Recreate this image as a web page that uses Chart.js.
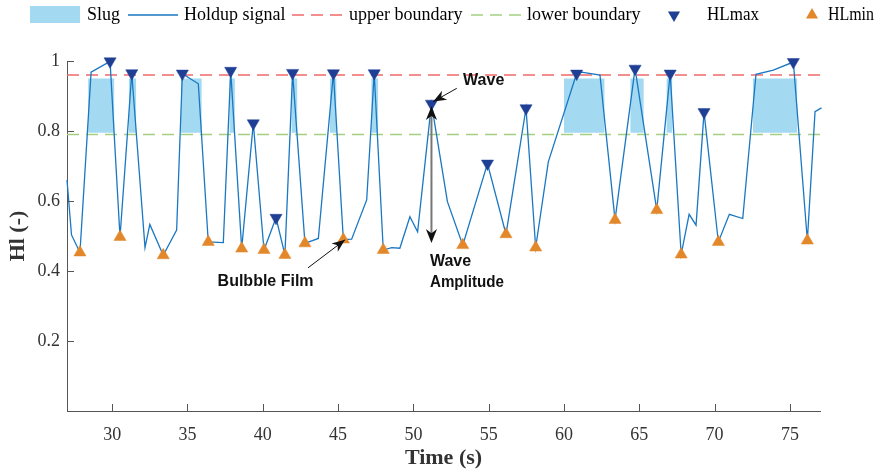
<!DOCTYPE html>
<html>
<head>
<meta charset="utf-8">
<title>Holdup signal</title>
<script src="https://cdn.jsdelivr.net/npm/chart.js@4.4.1/dist/chart.umd.min.js"></script>
<style>
  html, body { margin: 0; padding: 0; background: #fff; }
</style>
</head>
<body>
<canvas id="grafico" width="875" height="472"></canvas>
<script>
// Holdup signal (time in s, holdup -)
const tempoSinal = [27.0, 27.3, 27.86, 28.6, 29.86, 30.52, 31.3, 32.18, 32.5, 33.39, 34.28, 34.66, 35.72,
  36.38, 37.38, 37.87, 38.6, 39.37, 40.08, 40.88, 41.47, 41.98, 42.8, 43.69, 44.69, 45.35, 45.9, 46.9,
  47.4, 48.0, 48.56, 49.1, 49.77, 50.28, 51.2, 52.26, 53.28, 54.92, 56.15, 57.48, 58.12, 58.96, 60.84,
  61.17, 62.39, 63.39, 64.72, 66.16, 67.05, 67.78, 68.31, 68.77, 69.3, 70.25, 70.98, 71.87, 72.75,
  73.9, 75.23, 76.16, 76.67, 77.1];
const holdup = [0.66, 0.503, 0.453, 0.968, 0.999, 0.497, 0.965, 0.467, 0.533, 0.445, 0.517, 0.964, 0.935,
  0.483, 0.481, 0.972, 0.464, 0.822, 0.46, 0.552, 0.446, 0.966, 0.479, 0.493, 0.965, 0.49, 0.491, 0.603,
  0.965, 0.46, 0.467, 0.465, 0.555, 0.512, 0.878, 0.598, 0.474, 0.707, 0.505, 0.865, 0.467, 0.712, 0.964,
  0.968, 0.96, 0.546, 0.978, 0.574, 0.964, 0.447, 0.562, 0.531, 0.854, 0.483, 0.562, 0.55, 0.962,
  0.974, 0.997, 0.487, 0.855, 0.866];

// Local maxima / minima
const tempoMax = [29.86, 31.3, 34.66, 37.87, 39.37, 40.88, 41.98, 44.69, 47.4, 51.2, 54.92, 57.48,
  60.84, 64.72, 67.05, 69.3, 75.23];
const hlMax = [0.999, 0.965, 0.964, 0.972, 0.822, 0.552, 0.966, 0.965, 0.965, 0.878, 0.707, 0.865,
  0.964, 0.978, 0.964, 0.854, 0.997];
const tempoMin = [27.86, 30.52, 33.39, 36.38, 38.6, 40.08, 41.47, 42.8, 45.35, 48.0, 53.28, 56.15,
  58.12, 63.39, 66.16, 67.78, 70.25, 76.16];
const hlMin = [0.453, 0.497, 0.445, 0.483, 0.464, 0.46, 0.446, 0.479, 0.49, 0.46, 0.474, 0.505,
  0.467, 0.546, 0.574, 0.447, 0.483, 0.487];

// Slug intervals
const slugInicio = [28.4, 31.1, 34.57, 37.78, 41.9, 44.46, 47.2, 60.0, 64.4, 66.8, 72.55];
const slugFim = [30.15, 31.6, 35.95, 38.15, 42.3, 44.9, 47.67, 62.7, 65.3, 67.2, 75.5];
const slugTopo = 0.95;
const slugBase = 0.795;

// Boundaries
const limiteSuperior = 0.96;
const limiteInferior = 0.79;

// Axes
const tempoLimites = [27, 77];
const xTicks = [30, 35, 40, 45, 50, 55, 60, 65, 70, 75];
const yTicks = [0.2, 0.4, 0.6, 0.8, 1];

const corSlug = 'rgb(164, 218, 241)';
const corSinal = '#1a77c2';
const corSuperior = '#ee6a6a';
const corInferior = '#a4cf82';
const corMax = '#1f3f94';
const corMin = '#e3872b';

const serif = '"Liberation Serif", "Times New Roman", serif';
const sans = '"Liberation Sans", Arial, sans-serif';

function pares(xs, ys) {
  return xs.map((x, i) => ({ x: x, y: ys[i] }));
}

// one filled band per slug
const slugDatasets = slugInicio.map((ini, i) => ({
  label: 'Slug',
  data: [{ x: ini, y: slugTopo }, { x: slugFim[i], y: slugTopo }],
  fill: { value: slugBase },
  backgroundColor: corSlug,
  borderWidth: 0,
  pointRadius: 0,
  order: 4
}));

function seta(ctx, x0, y0, x1, y1, tam) {
  const a = Math.atan2(y1 - y0, x1 - x0);
  ctx.beginPath();
  ctx.moveTo(x1, y1);
  ctx.lineTo(x1 - tam * Math.cos(a - 0.38), y1 - tam * Math.sin(a - 0.38));
  ctx.lineTo(x1 - tam * 0.65 * Math.cos(a), y1 - tam * 0.65 * Math.sin(a));
  ctx.lineTo(x1 - tam * Math.cos(a + 0.38), y1 - tam * Math.sin(a + 0.38));
  ctx.closePath();
  ctx.fill();
}

// inward tick marks
const ticksInternos = {
  id: 'ticksInternos',
  afterDatasetsDraw(chart) {
    const ctx = chart.ctx, x = chart.scales.x, y = chart.scales.y;
    ctx.save();
    ctx.strokeStyle = '#555';
    ctx.lineWidth = 1;
    ctx.beginPath();
    x.ticks.forEach(t => {
      const px = Math.round(x.getPixelForValue(t.value)) + 0.5;
      ctx.moveTo(px, y.bottom);
      ctx.lineTo(px, y.bottom - 7);
    });
    y.ticks.forEach(t => {
      const py = Math.round(y.getPixelForValue(t.value)) + 0.5;
      ctx.moveTo(x.left, py);
      ctx.lineTo(x.left + 7, py);
    });
    ctx.stroke();
    ctx.restore();
  }
};

// text labels and arrows on the plot
const anotacoes = {
  id: 'anotacoes',
  afterDraw(chart) {
    const ctx = chart.ctx, x = chart.scales.x, y = chart.scales.y;
    const P = (t, v) => [x.getPixelForValue(t), y.getPixelForValue(v)];
    ctx.save();
    ctx.fillStyle = '#111';
    ctx.font = 'bold 16px ' + sans;
    ctx.textBaseline = 'middle';
    ctx.textAlign = 'left';

    let p = P(53.3, 0.943);
    ctx.fillText('Wave', p[0], p[1]);
    p = P(51.1, 0.426);
    ctx.fillText('Wave', p[0], p[1]);
    p = P(51.1, 0.366);
    ctx.fillText('Amplitude', p[0], p[1], 74);
    p = P(37.0, 0.371);
    ctx.fillText('Bulbble Film', p[0], p[1]);

    // wave arrow
    let a = P(52.88, 0.922), b = P(51.32, 0.884);
    ctx.strokeStyle = '#111';
    ctx.lineWidth = 1;
    ctx.beginPath(); ctx.moveTo(a[0], a[1]); ctx.lineTo(b[0], b[1]); ctx.stroke();
    seta(ctx, a[0], a[1], b[0], b[1], 14);

    // bubble film arrow
    a = P(43.0, 0.409); b = P(45.46, 0.489);
    ctx.beginPath(); ctx.moveTo(a[0], a[1]); ctx.lineTo(b[0], b[1]); ctx.stroke();
    seta(ctx, a[0], a[1], b[0], b[1], 14);

    // wave amplitude double arrow
    a = P(51.2, 0.871); b = P(51.2, 0.48);
    ctx.strokeStyle = '#777';
    ctx.lineWidth = 2;
    ctx.beginPath(); ctx.moveTo(a[0], a[1] + 8); ctx.lineTo(b[0], b[1] - 8); ctx.stroke();
    seta(ctx, b[0], b[1], a[0], a[1], 15);
    seta(ctx, a[0], a[1], b[0], b[1], 15);
    ctx.restore();
  }
};

// legend row across the top
const legenda = {
  id: 'legenda',
  afterDraw(chart) {
    const ctx = chart.ctx, yc = 15;
    ctx.save();
    ctx.font = '18px ' + serif;
    ctx.textBaseline = 'middle';
    ctx.fillStyle = '#000';

    ctx.fillStyle = corSlug;
    ctx.fillRect(30, 6, 50, 17);
    ctx.fillStyle = '#000';
    ctx.fillText('Slug', 87, yc);

    ctx.strokeStyle = corSinal;
    ctx.lineWidth = 1.5;
    ctx.beginPath(); ctx.moveTo(128, yc); ctx.lineTo(178, yc); ctx.stroke();
    ctx.fillText('Holdup signal', 184, yc);

    ctx.setLineDash([12, 7]);
    ctx.strokeStyle = corSuperior;
    ctx.beginPath(); ctx.moveTo(292, yc); ctx.lineTo(342, yc); ctx.stroke();
    ctx.fillText('upper boundary', 349, yc);

    ctx.strokeStyle = corInferior;
    ctx.beginPath(); ctx.moveTo(471, yc); ctx.lineTo(521, yc); ctx.stroke();
    ctx.fillText('lower boundary', 527, yc);
    ctx.setLineDash([]);

    const r = 7;
    ctx.fillStyle = corMax;
    ctx.beginPath();
    ctx.moveTo(674, yc + r); ctx.lineTo(674 - r * 0.866, yc - r / 2); ctx.lineTo(674 + r * 0.866, yc - r / 2);
    ctx.closePath(); ctx.fill();
    ctx.fillStyle = '#000';
    ctx.fillText('HLmax', 707, yc, 52);

    ctx.fillStyle = corMin;
    ctx.beginPath();
    ctx.moveTo(812, yc - r); ctx.lineTo(812 - r * 0.866, yc + r / 2); ctx.lineTo(812 + r * 0.866, yc + r / 2);
    ctx.closePath(); ctx.fill();
    ctx.fillStyle = '#000';
    ctx.fillText('HLmin', 828, yc, 46);
    ctx.restore();
  }
};

const ctx = document.getElementById('grafico').getContext('2d');

new Chart(ctx, {
  type: 'line',
  data: {
    datasets: [
      {
        label: 'HLmax',
        data: pares(tempoMax, hlMax),
        showLine: false,
        pointStyle: 'triangle',
        rotation: 180,
        pointRadius: 7,
        pointBackgroundColor: corMax,
        pointBorderColor: corMax,
        pointBorderWidth: 0.5,
        clip: false,
        order: 0
      },
      {
        label: 'HLmin',
        data: pares(tempoMin, hlMin),
        showLine: false,
        pointStyle: 'triangle',
        pointRadius: 7,
        pointBackgroundColor: corMin,
        pointBorderColor: corMin,
        pointBorderWidth: 0.5,
        clip: false,
        order: 0
      },
      {
        label: 'Holdup signal',
        data: pares(tempoSinal, holdup),
        borderColor: corSinal,
        borderWidth: 1.3,
        pointRadius: 0,
        tension: 0,
        clip: false,
        order: 1
      },
      {
        label: 'upper boundary',
        data: pares(tempoLimites, [limiteSuperior, limiteSuperior]),
        borderColor: corSuperior,
        borderWidth: 1.3,
        borderDash: [12, 7],
        pointRadius: 0,
        order: 2
      },
      {
        label: 'lower boundary',
        data: pares(tempoLimites, [limiteInferior, limiteInferior]),
        borderColor: corInferior,
        borderWidth: 1.3,
        borderDash: [12, 7],
        pointRadius: 0,
        order: 3
      },
      ...slugDatasets
    ]
  },
  options: {
    responsive: false,
    animation: false,
    layout: { padding: { top: 61, right: 55, left: 0, bottom: 0 } },
    plugins: {
      legend: { display: false },
      tooltip: { enabled: false }
    },
    scales: {
      x: {
        type: 'linear',
        min: tempoLimites[0],
        max: tempoLimites[1],
        afterBuildTicks: s => { s.ticks = xTicks.map(v => ({ value: v })); },
        afterFit: s => { s.height = 61; },
        grid: { display: true, drawOnChartArea: false, drawTicks: false },
        border: { display: true, color: '#555', width: 1 },
        ticks: {
          autoSkip: false,
          maxRotation: 0,
          padding: 13,
          color: '#333',
          font: { family: serif, size: 18 }
        },
        title: {
          display: true,
          text: 'Time (s)',
          color: '#333',
          padding: { top: 0, bottom: 0 },
          font: { family: serif, size: 22, weight: 'bold' }
        }
      },
      y: {
        min: 0,
        max: 1,
        afterBuildTicks: s => { s.ticks = yTicks.map(v => ({ value: v })); },
        afterFit: s => { s.width = 67; },
        grid: { display: true, drawOnChartArea: false, drawTicks: false },
        border: { display: true, color: '#555', width: 1 },
        ticks: {
          padding: 7,
          color: '#333',
          font: { family: serif, size: 18 },
          callback: v => String(v)
        },
        title: {
          display: true,
          text: 'Hl (-)',
          color: '#333',
          padding: { top: 5, bottom: 0 },
          font: { family: serif, size: 22, weight: 'bold' }
        }
      }
    }
  },
  plugins: [ticksInternos, anotacoes, legenda]
});
</script>
</body>
</html>
